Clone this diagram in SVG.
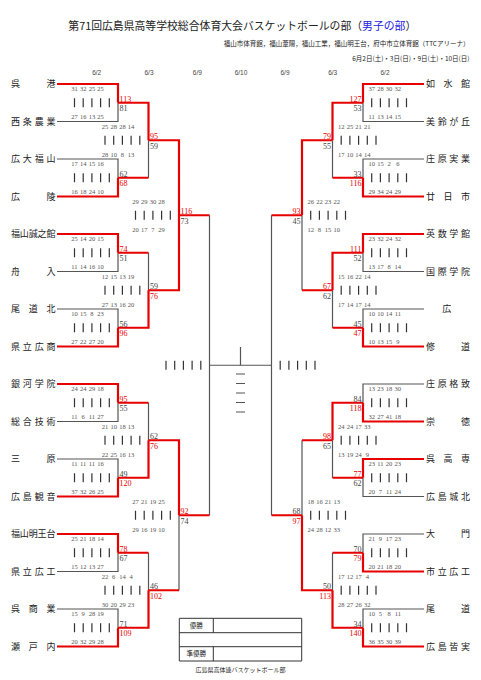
<svg xmlns="http://www.w3.org/2000/svg" xmlns:xlink="http://www.w3.org/1999/xlink" width="481" height="680" viewBox="0 0 481 680">
<style>
.g{fill:none;stroke:#555;stroke-width:1.2}
.r{fill:none;stroke:#e60000;stroke-width:2.2}
.tk{stroke:#333;stroke-width:1.2}
.jp{font-family:"Noto Sans CJK JP","Noto Sans",sans-serif;fill:#222}
.tm{font-family:"Noto Sans CJK JP",sans-serif;font-size:9px;fill:#222}
.q{font-family:"Liberation Serif",serif;font-size:6.5px;fill:#555;text-anchor:middle}
.s{font-family:"Liberation Serif",serif;font-size:8px;fill:#444}
.sr{font-family:"Liberation Serif",serif;font-size:8px;fill:#e60000}
.e{text-anchor:end}
.d{font-family:"Liberation Sans",sans-serif;font-size:6.5px;fill:#444;text-anchor:middle}
</style>
<defs>
<g id="tally"><path class="tk" d="M0,-4.5V4.5M8.7,-4.5V4.5M17.4,-4.5V4.5M26.1,-4.5V4.5M34.8,-4.5V4.5"/></g>
</defs>
<rect width="481" height="680" fill="#fff"/>
<g id="header">
<text class="jp" x="68.3" y="30" font-size="11" textLength="348" lengthAdjust="spacingAndGlyphs">第71回広島県高等学校総合体育大会バスケットボールの部（<tspan fill="#2222dd">男子の部</tspan>）</text>
<text class="jp" x="469.5" y="46" font-size="6.5" text-anchor="end">福山市体育館，福山葦陽，福山工業，福山明王台，府中市立体育館（TTCアリーナ）</text>
<text class="jp" x="469.5" y="61" font-size="6.5" text-anchor="end">6月2日(土)・3日(日)・9日(土)・10日(日)</text>
<text class="d" x="96.7" y="75">6/2</text>
<text class="d" x="149" y="75">6/3</text>
<text class="d" x="197.3" y="75">6/9</text>
<text class="d" x="241" y="75">6/10</text>
<text class="d" x="285" y="75">6/9</text>
<text class="d" x="332.7" y="75">6/3</text>
<text class="d" x="385" y="75">6/2</text>
</g>
<g id="connectors">
<path class="g" d="M57,121.5H118V102.75M57,159H118V177.75M57,271.5H118V252.75M57,309H118V327.75M57,421.5H118V402.75M57,459H118V477.75M57,571.5H118V552.75M57,609H118V627.75M148.5,177.75V140.25M148.5,252.75V290.25M148.5,402.75V440.25M148.5,552.75V590.25M179,590.25V515.25M209.5,215.25V515.25M209.5,365.25H271.5"/>
<path class="g" d="M424,121.5H363V102.75M424,159H363V177.75M424,271.5H363V252.75M424,309H363V327.75M424,384H363V402.75M424,496.5H363V477.75M424,534H363V552.75M424,609H363V627.75M332.5,177.75V140.25M332.5,327.75V290.25M332.5,477.75V440.25M332.5,552.75V590.25M302,290.25V215.25M302,440.25V515.25M271.5,215.25V515.25"/>
<path class="g" d="M240.5,347V365.25M236,374H245M236,383.5H245M236,393H245M236,402.5H245M236,412H245"/>
<path class="r" d="M57,84H118V102.75M57,196.5H118V177.75M57,234H118V252.75M57,346.5H118V327.75M57,384H118V402.75M57,496.5H118V477.75M57,534H118V552.75M57,646.5H118V627.75M118,102.75H148.5V140.25M118,177.75H148.5M118,252.75H148.5M118,327.75H148.5V290.25M118,402.75H148.5M118,477.75H148.5V440.25M118,552.75H148.5M118,627.75H148.5V590.25M148.5,140.25H179V215.25M148.5,290.25H179V215.25M148.5,440.25H179V515.25M148.5,590.25H179M179,215.25H209.5M179,515.25H209.5"/>
<path class="r" d="M424,84H363V102.75M424,196.5H363V177.75M424,234H363V252.75M424,346.5H363V327.75M424,421.5H363V402.75M424,459H363V477.75M424,571.5H363V552.75M424,646.5H363V627.75M363,102.75H332.5V140.25M363,177.75H332.5M363,252.75H332.5V290.25M363,327.75H332.5M363,402.75H332.5V440.25M363,477.75H332.5M363,552.75H332.5M363,627.75H332.5V590.25M332.5,140.25H302V215.25M332.5,290.25H302M332.5,440.25H302M332.5,590.25H302V515.25M302,215.25H271.5M302,515.25H271.5"/>
</g>
<g id="tallies">
<use xlink:href="#tally" x="74.5" y="102.75"/><use xlink:href="#tally" x="74.5" y="177.75"/><use xlink:href="#tally" x="74.5" y="252.75"/><use xlink:href="#tally" x="74.5" y="327.75"/><use xlink:href="#tally" x="74.5" y="402.75"/><use xlink:href="#tally" x="74.5" y="477.75"/><use xlink:href="#tally" x="74.5" y="552.75"/><use xlink:href="#tally" x="74.5" y="627.75"/>
<use xlink:href="#tally" x="105" y="140.25"/><use xlink:href="#tally" x="105" y="290.25"/><use xlink:href="#tally" x="105" y="440.25"/><use xlink:href="#tally" x="105" y="590.25"/>
<use xlink:href="#tally" x="135.5" y="215.25"/><use xlink:href="#tally" x="135.5" y="515.25"/>
<use xlink:href="#tally" x="166" y="365.25"/>
<use xlink:href="#tally" x="371.7" y="102.75"/><use xlink:href="#tally" x="371.7" y="177.75"/><use xlink:href="#tally" x="371.7" y="252.75"/><use xlink:href="#tally" x="371.7" y="327.75"/><use xlink:href="#tally" x="371.7" y="402.75"/><use xlink:href="#tally" x="371.7" y="477.75"/><use xlink:href="#tally" x="371.7" y="552.75"/><use xlink:href="#tally" x="371.7" y="627.75"/>
<use xlink:href="#tally" x="341.2" y="140.25"/><use xlink:href="#tally" x="341.2" y="290.25"/><use xlink:href="#tally" x="341.2" y="440.25"/><use xlink:href="#tally" x="341.2" y="590.25"/>
<use xlink:href="#tally" x="310.7" y="215.25"/><use xlink:href="#tally" x="310.7" y="515.25"/>
<use xlink:href="#tally" x="280.2" y="365.25"/>
</g>
<g id="team-left">
<text class="tm" x="11" y="87.4" textLength="44.5" lengthAdjust="spacing">呉港</text>
<text class="tm" x="11" y="124.9" textLength="44.5" lengthAdjust="spacing">西条農業</text>
<text class="tm" x="11" y="162.4" textLength="44.5" lengthAdjust="spacing">広大福山</text>
<text class="tm" x="11" y="199.9" textLength="44.5" lengthAdjust="spacing">広陵</text>
<text class="tm" x="11" y="237.4" textLength="44.5" lengthAdjust="spacing">福山誠之館</text>
<text class="tm" x="11" y="274.9" textLength="44.5" lengthAdjust="spacing">舟入</text>
<text class="tm" x="11" y="312.4" textLength="44.5" lengthAdjust="spacing">尾道北</text>
<text class="tm" x="11" y="349.9" textLength="44.5" lengthAdjust="spacing">県立広商</text>
<text class="tm" x="11" y="387.4" textLength="44.5" lengthAdjust="spacing">銀河学院</text>
<text class="tm" x="11" y="424.9" textLength="44.5" lengthAdjust="spacing">総合技術</text>
<text class="tm" x="11" y="462.4" textLength="44.5" lengthAdjust="spacing">三原</text>
<text class="tm" x="11" y="499.9" textLength="44.5" lengthAdjust="spacing">広島観音</text>
<text class="tm" x="11" y="537.4" textLength="44.5" lengthAdjust="spacing">福山明王台</text>
<text class="tm" x="11" y="574.9" textLength="44.5" lengthAdjust="spacing">県立広工</text>
<text class="tm" x="11" y="612.4" textLength="44.5" lengthAdjust="spacing">呉商業</text>
<text class="tm" x="11" y="649.9" textLength="44.5" lengthAdjust="spacing">瀬戸内</text>
</g>
<g id="team-right">
<text class="tm" x="426" y="87.4" textLength="44" lengthAdjust="spacing">如水館</text>
<text class="tm" x="426" y="124.9" textLength="44" lengthAdjust="spacing">美鈴が丘</text>
<text class="tm" x="426" y="162.4" textLength="44" lengthAdjust="spacing">庄原実業</text>
<text class="tm" x="426" y="199.9" textLength="44" lengthAdjust="spacing">廿日市</text>
<text class="tm" x="426" y="237.4" textLength="44" lengthAdjust="spacing">英数学館</text>
<text class="tm" x="426" y="274.9" textLength="44" lengthAdjust="spacing">国際学院</text>
<text class="tm" x="446.7" y="312.4" text-anchor="middle">広</text>
<text class="tm" x="426" y="349.9" textLength="44" lengthAdjust="spacing">修道</text>
<text class="tm" x="426" y="387.4" textLength="44" lengthAdjust="spacing">庄原格致</text>
<text class="tm" x="426" y="424.9" textLength="44" lengthAdjust="spacing">崇徳</text>
<text class="tm" x="426" y="462.4" textLength="44" lengthAdjust="spacing">呉高専</text>
<text class="tm" x="426" y="499.9" textLength="44" lengthAdjust="spacing">広島城北</text>
<text class="tm" x="426" y="537.4" textLength="44" lengthAdjust="spacing">大門</text>
<text class="tm" x="426" y="574.9" textLength="44" lengthAdjust="spacing">市立広工</text>
<text class="tm" x="426" y="612.4" textLength="44" lengthAdjust="spacing">尾道</text>
<text class="tm" x="426" y="649.9" textLength="44" lengthAdjust="spacing">広島皆実</text>
</g>
<g id="quarters">
<text class="q" y="91.05"><tspan x="74.5">31</tspan><tspan x="83.2">32</tspan><tspan x="91.9">25</tspan><tspan x="100.6">25</tspan></text>
<text class="q" y="119.05"><tspan x="74.5">27</tspan><tspan x="83.2">16</tspan><tspan x="91.9">13</tspan><tspan x="100.6">25</tspan></text>
<text class="q" y="166.05"><tspan x="74.5">17</tspan><tspan x="83.2">14</tspan><tspan x="91.9">15</tspan><tspan x="100.6">16</tspan></text>
<text class="q" y="194.05"><tspan x="74.5">16</tspan><tspan x="83.2">18</tspan><tspan x="91.9">24</tspan><tspan x="100.6">10</tspan></text>
<text class="q" y="241.05"><tspan x="74.5">25</tspan><tspan x="83.2">14</tspan><tspan x="91.9">20</tspan><tspan x="100.6">15</tspan></text>
<text class="q" y="269.05"><tspan x="74.5">11</tspan><tspan x="83.2">14</tspan><tspan x="91.9">16</tspan><tspan x="100.6">10</tspan></text>
<text class="q" y="316.05"><tspan x="74.5">10</tspan><tspan x="83.2">15</tspan><tspan x="91.9">8</tspan><tspan x="100.6">23</tspan></text>
<text class="q" y="344.05"><tspan x="74.5">27</tspan><tspan x="83.2">22</tspan><tspan x="91.9">27</tspan><tspan x="100.6">20</tspan></text>
<text class="q" y="391.05"><tspan x="74.5">24</tspan><tspan x="83.2">24</tspan><tspan x="91.9">29</tspan><tspan x="100.6">18</tspan></text>
<text class="q" y="419.05"><tspan x="74.5">11</tspan><tspan x="83.2">6</tspan><tspan x="91.9">11</tspan><tspan x="100.6">27</tspan></text>
<text class="q" y="466.05"><tspan x="74.5">11</tspan><tspan x="83.2">11</tspan><tspan x="91.9">11</tspan><tspan x="100.6">16</tspan></text>
<text class="q" y="494.05"><tspan x="74.5">37</tspan><tspan x="83.2">32</tspan><tspan x="91.9">26</tspan><tspan x="100.6">25</tspan></text>
<text class="q" y="541.05"><tspan x="74.5">25</tspan><tspan x="83.2">21</tspan><tspan x="91.9">18</tspan><tspan x="100.6">14</tspan></text>
<text class="q" y="569.05"><tspan x="74.5">15</tspan><tspan x="83.2">12</tspan><tspan x="91.9">13</tspan><tspan x="100.6">27</tspan></text>
<text class="q" y="616.05"><tspan x="74.5">15</tspan><tspan x="83.2">9</tspan><tspan x="91.9">28</tspan><tspan x="100.6">19</tspan></text>
<text class="q" y="644.05"><tspan x="74.5">20</tspan><tspan x="83.2">32</tspan><tspan x="91.9">29</tspan><tspan x="100.6">28</tspan></text>
<text class="q" y="128.55"><tspan x="105">25</tspan><tspan x="113.7">28</tspan><tspan x="122.4">28</tspan><tspan x="131.1">14</tspan></text>
<text class="q" y="156.55"><tspan x="105">28</tspan><tspan x="113.7">10</tspan><tspan x="122.4">8</tspan><tspan x="131.1">13</tspan></text>
<text class="q" y="278.55"><tspan x="105">12</tspan><tspan x="113.7">15</tspan><tspan x="122.4">13</tspan><tspan x="131.1">19</tspan></text>
<text class="q" y="306.55"><tspan x="105">27</tspan><tspan x="113.7">13</tspan><tspan x="122.4">16</tspan><tspan x="131.1">20</tspan></text>
<text class="q" y="428.55"><tspan x="105">21</tspan><tspan x="113.7">10</tspan><tspan x="122.4">18</tspan><tspan x="131.1">13</tspan></text>
<text class="q" y="456.55"><tspan x="105">22</tspan><tspan x="113.7">25</tspan><tspan x="122.4">16</tspan><tspan x="131.1">13</tspan></text>
<text class="q" y="578.55"><tspan x="105">22</tspan><tspan x="113.7">6</tspan><tspan x="122.4">14</tspan><tspan x="131.1">4</tspan></text>
<text class="q" y="606.55"><tspan x="105">30</tspan><tspan x="113.7">20</tspan><tspan x="122.4">29</tspan><tspan x="131.1">23</tspan></text>
<text class="q" y="203.55"><tspan x="135.5">29</tspan><tspan x="144.2">29</tspan><tspan x="152.9">30</tspan><tspan x="161.6">28</tspan></text>
<text class="q" y="231.55"><tspan x="135.5">20</tspan><tspan x="144.2">17</tspan><tspan x="152.9">7</tspan><tspan x="161.6">29</tspan></text>
<text class="q" y="503.55"><tspan x="135.5">27</tspan><tspan x="144.2">21</tspan><tspan x="152.9">19</tspan><tspan x="161.6">25</tspan></text>
<text class="q" y="531.55"><tspan x="135.5">29</tspan><tspan x="144.2">16</tspan><tspan x="152.9">19</tspan><tspan x="161.6">10</tspan></text>
<text class="q" y="91.05"><tspan x="371.7">37</tspan><tspan x="380.4">28</tspan><tspan x="389.1">30</tspan><tspan x="397.8">32</tspan></text>
<text class="q" y="119.05"><tspan x="371.7">11</tspan><tspan x="380.4">13</tspan><tspan x="389.1">14</tspan><tspan x="397.8">15</tspan></text>
<text class="q" y="166.05"><tspan x="371.7">10</tspan><tspan x="380.4">15</tspan><tspan x="389.1">2</tspan><tspan x="397.8">6</tspan></text>
<text class="q" y="194.05"><tspan x="371.7">29</tspan><tspan x="380.4">34</tspan><tspan x="389.1">24</tspan><tspan x="397.8">29</tspan></text>
<text class="q" y="241.05"><tspan x="371.7">23</tspan><tspan x="380.4">32</tspan><tspan x="389.1">24</tspan><tspan x="397.8">32</tspan></text>
<text class="q" y="269.05"><tspan x="371.7">13</tspan><tspan x="380.4">17</tspan><tspan x="389.1">8</tspan><tspan x="397.8">14</tspan></text>
<text class="q" y="316.05"><tspan x="371.7">10</tspan><tspan x="380.4">10</tspan><tspan x="389.1">14</tspan><tspan x="397.8">11</tspan></text>
<text class="q" y="344.05"><tspan x="371.7">10</tspan><tspan x="380.4">13</tspan><tspan x="389.1">15</tspan><tspan x="397.8">9</tspan></text>
<text class="q" y="391.05"><tspan x="371.7">13</tspan><tspan x="380.4">23</tspan><tspan x="389.1">18</tspan><tspan x="397.8">30</tspan></text>
<text class="q" y="419.05"><tspan x="371.7">32</tspan><tspan x="380.4">27</tspan><tspan x="389.1">41</tspan><tspan x="397.8">18</tspan></text>
<text class="q" y="466.05"><tspan x="371.7">23</tspan><tspan x="380.4">11</tspan><tspan x="389.1">20</tspan><tspan x="397.8">23</tspan></text>
<text class="q" y="494.05"><tspan x="371.7">20</tspan><tspan x="380.4">7</tspan><tspan x="389.1">11</tspan><tspan x="397.8">24</tspan></text>
<text class="q" y="541.05"><tspan x="371.7">21</tspan><tspan x="380.4">9</tspan><tspan x="389.1">17</tspan><tspan x="397.8">23</tspan></text>
<text class="q" y="569.05"><tspan x="371.7">20</tspan><tspan x="380.4">21</tspan><tspan x="389.1">18</tspan><tspan x="397.8">20</tspan></text>
<text class="q" y="616.05"><tspan x="371.7">10</tspan><tspan x="380.4">5</tspan><tspan x="389.1">8</tspan><tspan x="397.8">11</tspan></text>
<text class="q" y="644.05"><tspan x="371.7">36</tspan><tspan x="380.4">35</tspan><tspan x="389.1">30</tspan><tspan x="397.8">39</tspan></text>
<text class="q" y="128.55"><tspan x="341.2">12</tspan><tspan x="349.9">25</tspan><tspan x="358.6">21</tspan><tspan x="367.3">21</tspan></text>
<text class="q" y="156.55"><tspan x="341.2">17</tspan><tspan x="349.9">10</tspan><tspan x="358.6">14</tspan><tspan x="367.3">14</tspan></text>
<text class="q" y="278.55"><tspan x="341.2">15</tspan><tspan x="349.9">16</tspan><tspan x="358.6">22</tspan><tspan x="367.3">14</tspan></text>
<text class="q" y="306.55"><tspan x="341.2">17</tspan><tspan x="349.9">14</tspan><tspan x="358.6">17</tspan><tspan x="367.3">14</tspan></text>
<text class="q" y="428.55"><tspan x="341.2">24</tspan><tspan x="349.9">24</tspan><tspan x="358.6">17</tspan><tspan x="367.3">33</tspan></text>
<text class="q" y="456.55"><tspan x="341.2">13</tspan><tspan x="349.9">19</tspan><tspan x="358.6">24</tspan><tspan x="367.3">9</tspan></text>
<text class="q" y="578.55"><tspan x="341.2">17</tspan><tspan x="349.9">12</tspan><tspan x="358.6">17</tspan><tspan x="367.3">4</tspan></text>
<text class="q" y="606.55"><tspan x="341.2">28</tspan><tspan x="349.9">27</tspan><tspan x="358.6">26</tspan><tspan x="367.3">32</tspan></text>
<text class="q" y="203.55"><tspan x="310.7">26</tspan><tspan x="319.4">22</tspan><tspan x="328.1">23</tspan><tspan x="336.8">22</tspan></text>
<text class="q" y="231.55"><tspan x="310.7">12</tspan><tspan x="319.4">8</tspan><tspan x="328.1">15</tspan><tspan x="336.8">10</tspan></text>
<text class="q" y="503.55"><tspan x="310.7">18</tspan><tspan x="319.4">16</tspan><tspan x="328.1">21</tspan><tspan x="336.8">13</tspan></text>
<text class="q" y="531.55"><tspan x="310.7">24</tspan><tspan x="319.4">28</tspan><tspan x="328.1">12</tspan><tspan x="336.8">33</tspan></text>
</g>
<g id="scores">
<text class="sr" x="119.5" y="101.95">113</text><text class="s" x="119.5" y="111.15">81</text>
<text class="s" x="119.5" y="176.95">62</text><text class="sr" x="119.5" y="186.15">68</text>
<text class="sr" x="119.5" y="251.95">74</text><text class="s" x="119.5" y="261.15">51</text>
<text class="s" x="119.5" y="326.95">56</text><text class="sr" x="119.5" y="336.15">96</text>
<text class="sr" x="119.5" y="401.95">95</text><text class="s" x="119.5" y="411.15">55</text>
<text class="s" x="119.5" y="476.95">49</text><text class="sr" x="119.5" y="486.15">120</text>
<text class="sr" x="119.5" y="551.95">78</text><text class="s" x="119.5" y="561.15">67</text>
<text class="s" x="119.5" y="626.95">71</text><text class="sr" x="119.5" y="636.15">109</text>
<text class="sr" x="150" y="139.45">95</text><text class="s" x="150" y="148.65">59</text>
<text class="s" x="150" y="289.45">59</text><text class="sr" x="150" y="298.65">76</text>
<text class="s" x="150" y="439.45">62</text><text class="sr" x="150" y="448.65">76</text>
<text class="s" x="150" y="589.45">46</text><text class="sr" x="150" y="598.65">102</text>
<text class="sr" x="180.5" y="214.45">116</text><text class="s" x="180.5" y="223.65">73</text>
<text class="sr" x="180.5" y="514.45">92</text><text class="s" x="180.5" y="523.65">74</text>
<text class="sr e" x="361.5" y="101.95">127</text><text class="s e" x="361.5" y="111.15">53</text>
<text class="s e" x="361.5" y="176.95">33</text><text class="sr e" x="361.5" y="186.15">116</text>
<text class="sr e" x="361.5" y="251.95">111</text><text class="s e" x="361.5" y="261.15">52</text>
<text class="s e" x="361.5" y="326.95">45</text><text class="sr e" x="361.5" y="336.15">47</text>
<text class="s e" x="361.5" y="401.95">84</text><text class="sr e" x="361.5" y="411.15">118</text>
<text class="sr e" x="361.5" y="476.95">77</text><text class="s e" x="361.5" y="486.15">62</text>
<text class="s e" x="361.5" y="551.95">70</text><text class="sr e" x="361.5" y="561.15">79</text>
<text class="s e" x="361.5" y="626.95">34</text><text class="sr e" x="361.5" y="636.15">140</text>
<text class="sr e" x="331" y="139.45">79</text><text class="s e" x="331" y="148.65">55</text>
<text class="sr e" x="331" y="289.45">67</text><text class="s e" x="331" y="298.65">62</text>
<text class="sr e" x="331" y="439.45">98</text><text class="s e" x="331" y="448.65">65</text>
<text class="s e" x="331" y="589.45">50</text><text class="sr e" x="331" y="598.65">113</text>
<text class="sr e" x="300.5" y="214.45">93</text><text class="s e" x="300.5" y="223.65">45</text>
<text class="s e" x="300.5" y="514.45">68</text><text class="sr e" x="300.5" y="523.65">97</text>
</g>
<g id="result-table">
<path fill="none" stroke="#333" stroke-width="1" d="M179.3,618.3H301.7V661H179.3ZM179.3,632.7H301.7M179.3,646.7H301.7M213.3,618.3V632.7M213.3,646.7V661"/>
<text class="jp" x="196.3" y="627.8" font-size="6.5" text-anchor="middle">優勝</text>
<text class="jp" x="196.3" y="656.2" font-size="6.5" text-anchor="middle">準優勝</text>
<text class="jp" x="240.5" y="672" font-size="6" text-anchor="middle">広島県高体連バスケットボール部</text>
</g>
</svg>
